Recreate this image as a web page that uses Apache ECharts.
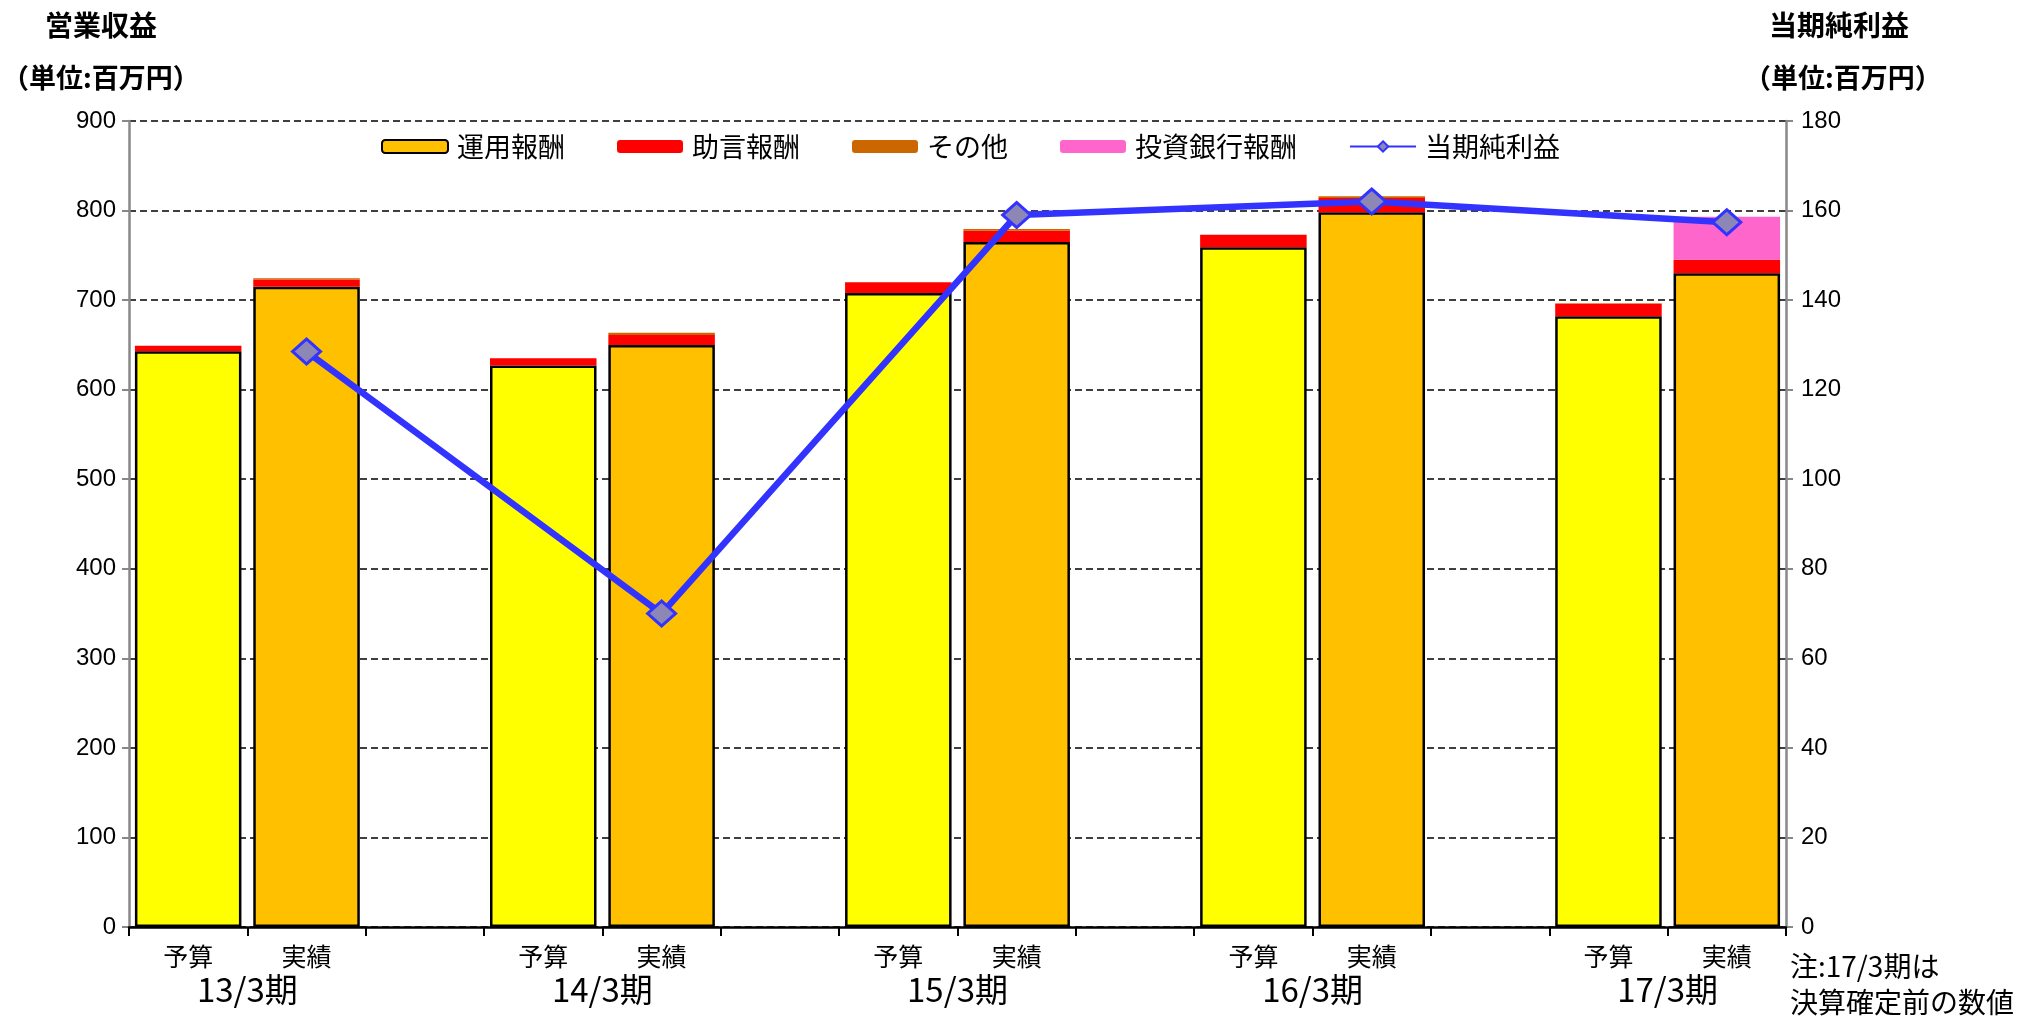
<!DOCTYPE html>
<html>
<head>
<meta charset="utf-8">
<script src="https://cdn.jsdelivr.net/npm/echarts@6/dist/echarts.min.js"></script>
<style>
  html, body { margin: 0; padding: 0; background: #fff; }
  #chart { width: 2022px; height: 1018px; }
</style>
</head>
<body>
<div id="chart"></div>
<script>
// Category slots: budget / actual per fiscal period, with an empty spacer slot between periods
const slots = ['予算', '実績', '', '予算', '実績', '', '予算', '実績', '', '予算', '実績', '', '予算', '実績'];
const periods = ['13/3期', '14/3期', '15/3期', '16/3期', '17/3期'];

// 営業収益 components (百万円)
const unyoFee   = [643, 715, null, 627, 650, null, 708, 765, null, 759, 798, null, 682, 730];
const jogenFee  = [6,   8,   null, 8,   11,  null, 12,  12.5, null, 14, 16,  null, 14,  15];
const otherFee  = [0,   1.5, null, 0,   2.5, null, 0,   2,   null, 0,   2,   null, 0.5, 0];
const ibFee     = [0,   0,   null, 0,   0,   null, 0,   0,   null, 0,   0,   null, 0,   48];

// 当期純利益 (百万円), actual slots only
const netIncome = [null, 128.5, null, null, 70, null, null, 159, null, null, 162, null, null, 157.4];

const FONT = '"Liberation Sans", "Noto Sans CJK JP", sans-serif';
const CJK = '"Noto Sans CJK JP", "Liberation Sans", sans-serif';

const chart = echarts.init(document.getElementById('chart'));

const unyoData = unyoFee.map((v, i) => ({
  value: v,
  itemStyle: { color: slots[i] === '予算' ? '#FFFF00' : '#FFC000' }
}));

const option = {
  animation: false,
  backgroundColor: '#ffffff',
  textStyle: { fontFamily: FONT },
  legend: {
    top: 128,
    left: 376,
    itemWidth: 66,
    itemHeight: 13,
    itemGap: 52,
    textStyle: { fontSize: 27, color: '#000', fontFamily: CJK, padding: [0, 0, 0, 4] },
    data: ['運用報酬', '助言報酬', 'その他', '投資銀行報酬', '当期純利益']
  },
  grid: { left: 129, right: 236, top: 121, bottom: 91, containLabel: false },
  xAxis: [
    {
      type: 'category',
      data: slots,
      boundaryGap: true,
      axisLine: { lineStyle: { color: '#000', width: 2.5 } },
      axisTick: { show: true, length: 9, lineStyle: { color: '#000', width: 2 } },
      axisLabel: { color: '#000', fontSize: 25, margin: 17, fontFamily: CJK, interval: 0 },
      splitLine: { show: false },
      z: 5
    },
    {
      type: 'value',
      position: 'bottom',
      min: 0,
      max: slots.length,
      axisLine: { show: false },
      axisTick: { show: false },
      splitLine: { show: false },
      axisLabel: {
        customValues: periods.map((p, k) => 3 * k + 1),
        formatter: v => periods[Math.round((v - 1) / 3)],
        color: '#000',
        fontSize: 33,
        margin: 46,
        fontFamily: CJK
      }
    }
  ],
  yAxis: [
    {
      type: 'value',
      min: 0, max: 900, interval: 100,
      axisLine: { show: true, lineStyle: { color: '#888', width: 2.5 } },
      axisTick: { show: true, length: 7, lineStyle: { color: '#888', width: 2 } },
      axisLabel: { color: '#000', fontSize: 24, margin: 13 },
      splitLine: { show: true, lineStyle: { color: '#000', type: [7, 4], width: 1.5 } }
    },
    {
      type: 'value',
      min: 0, max: 180, interval: 20,
      position: 'right',
      axisLine: { show: true, lineStyle: { color: '#888', width: 2.5 } },
      axisTick: { show: true, length: 7, lineStyle: { color: '#888', width: 2 } },
      axisLabel: { color: '#000', fontSize: 24, margin: 15 },
      splitLine: { show: false }
    }
  ],
  series: [
    {
      name: '運用報酬', type: 'bar', stack: 'rev', data: unyoData,
      barCategoryGap: '10%',
      itemStyle: { color: '#FFC000', borderColor: '#000', borderWidth: 2.5 }
    },
    {
      name: '助言報酬', type: 'bar', stack: 'rev', data: jogenFee,
      itemStyle: { color: '#FF0000' }
    },
    {
      name: 'その他', type: 'bar', stack: 'rev', data: otherFee,
      itemStyle: { color: '#CC6600' }
    },
    {
      name: '投資銀行報酬', type: 'bar', stack: 'rev', data: ibFee,
      itemStyle: { color: '#FF66CC' }
    },
    {
      name: '当期純利益', type: 'line', yAxisIndex: 1, data: netIncome,
      connectNulls: true,
      symbol: 'diamond', symbolSize: [28, 25],
      lineStyle: { color: '#3333FF', width: 6.5 },
      itemStyle: { color: '#8d87b5', borderColor: '#3333FF', borderWidth: 3 },
      z: 10
    }
  ],
  graphic: [
    { type: 'text', left: 45, top: 11, style: { text: '営業収益', font: 'bold 28px ' + CJK, fill: '#000' } },
    { type: 'text', left: 2, top: 64, style: { text: '（単位:百万円）', font: 'bold 27px ' + CJK, fill: '#000' } },
    { type: 'text', left: 1769, top: 11, style: { text: '当期純利益', font: 'bold 28px ' + CJK, fill: '#000' } },
    { type: 'text', left: 1744, top: 64, style: { text: '（単位:百万円）', font: 'bold 27px ' + CJK, fill: '#000' } },
    { type: 'text', left: 1790, top: 948, style: { text: '注:17/3期は\n決算確定前の数値', font: '28px ' + CJK, fill: '#000', lineHeight: 36 } }
  ]
};

chart.setOption(option);
</script>
</body>
</html>
